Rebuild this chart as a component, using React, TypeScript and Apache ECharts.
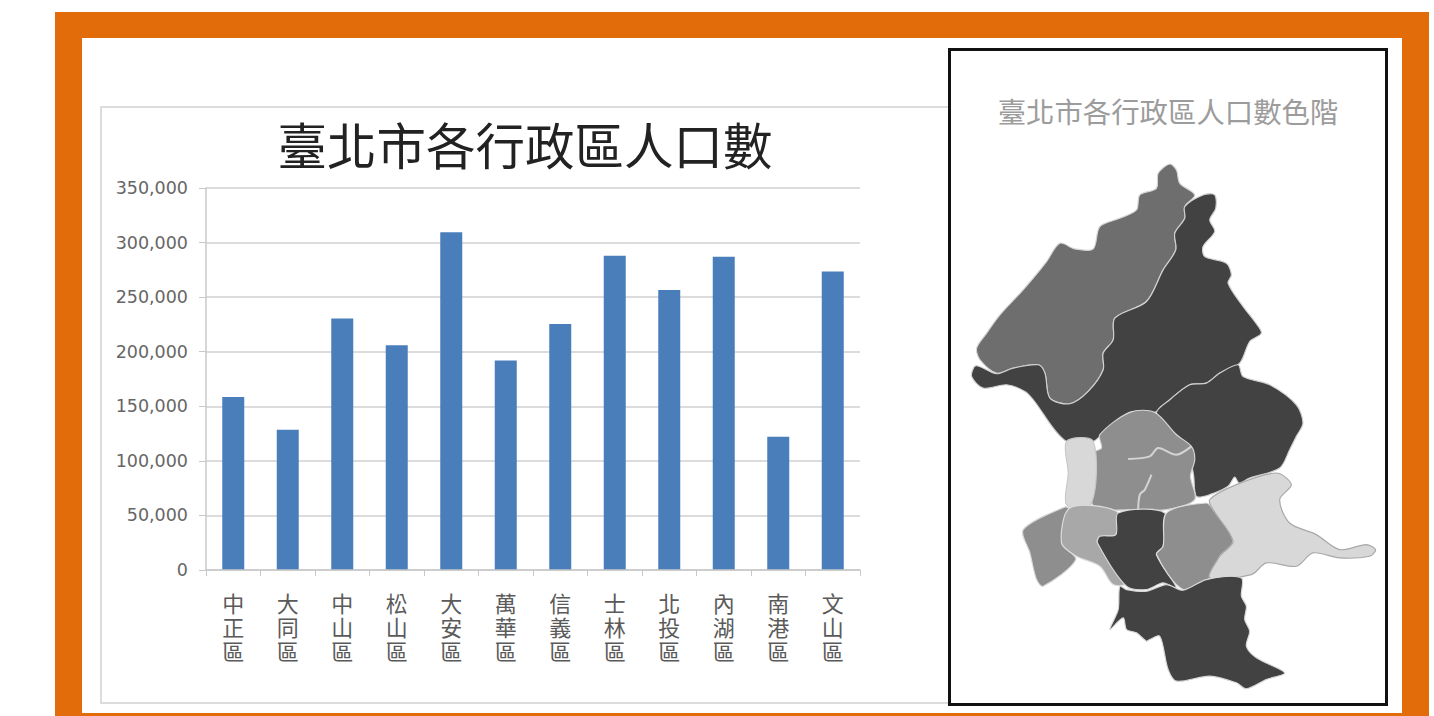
import React, { useEffect, useRef } from "react";
import * as echarts from "echarts";

const districts = ["中正區", "大同區", "中山區", "松山區", "大安區", "萬華區", "信義區", "士林區", "北投區", "內湖區", "南港區", "文山區"];
const population = [158500, 128500, 230500, 206000, 309500, 192000, 225500, 288000, 256500, 287000, 122000, 273500];
const chartTitle = "臺北市各行政區人口數";
const mapTitle = "臺北市各行政區人口數色階";

// Map outlines, in 3x pixels measured from (950,150)
const beitou = [[80,595],[110,550],[150,495],[215,425],[250,385],[290,335],[330,280],[375,297],[430,297],[450,230],[510,205],[560,180],[570,135],[620,115],[625,70],[660,42],[680,60],[690,100],[735,135],[705,170],[705,205],[675,250],[678,300],[640,360],[590,455],[495,505],[490,570],[460,610],[460,660],[415,725],[360,762],[300,745],[285,670],[265,645],[190,655],[140,670],[90,630]];
const shilin = [[65,680],[78,648],[140,672],[190,655],[265,645],[285,670],[300,745],[360,762],[415,725],[460,660],[460,610],[490,570],[495,505],[590,455],[640,360],[678,300],[675,250],[705,205],[705,170],[760,135],[795,135],[798,175],[780,210],[795,245],[760,290],[765,320],[830,340],[845,375],[835,400],[880,470],[915,515],[935,550],[900,575],[870,640],[810,670],[770,700],[720,705],[660,750],[615,788],[540,788],[450,860],[430,875],[345,872],[250,750],[225,725],[170,705],[100,715]];
const neihu = [[620,790],[660,750],[720,705],[770,700],[810,670],[865,645],[880,680],[960,705],[1040,765],[1060,820],[1040,860],[1020,900],[990,955],[900,985],[868,1000],[855,982],[835,1010],[780,1035],[740,1040],[732,980],[725,935],[725,895],[680,855]];
const centre = [[450,855],[540,788],[615,788],[680,855],[725,890],[735,930],[722,980],[735,1050],[650,1080],[565,1080],[430,1068],[430,910],[455,895]];
const datong = [[350,875],[430,875],[425,1060],[350,1065],[355,970]];
const wanhua = [[220,1140],[345,1072],[360,1080],[335,1180],[378,1230],[280,1310],[260,1290],[240,1210]];
const zhongzheng = [[360,1075],[500,1085],[498,1155],[450,1160],[443,1180],[530,1300],[490,1305],[450,1250],[380,1220],[335,1180]];
const daan = [[505,1090],[645,1090],[640,1190],[620,1215],[680,1315],[640,1300],[590,1320],[530,1310],[443,1180],[450,1160],[498,1155]];
const xinyi = [[650,1090],[770,1060],[790,1080],[850,1175],[810,1220],[780,1285],[700,1320],[620,1215],[640,1190]];
const nangang = [[780,1050],[860,1005],[980,970],[1025,1005],[990,1050],[1020,1120],[1100,1155],[1170,1200],[1250,1185],[1278,1200],[1260,1220],[1170,1225],[1090,1210],[1040,1250],[950,1240],[905,1275],[780,1285],[810,1220],[850,1175],[790,1080]];
const wenshan = [[510,1310],[530,1320],[590,1325],[650,1305],[700,1322],[770,1290],[875,1285],[875,1340],[890,1370],[885,1410],[900,1445],[890,1490],[920,1525],[1005,1570],[950,1590],[890,1618],[860,1600],[780,1580],[680,1595],[655,1560],[630,1460],[600,1470],[590,1475],[560,1450],[530,1440],[520,1405],[480,1440],[505,1380]];
const innerLineA = [[535,928],[600,920],[625,895],[680,915],[725,890]];
const innerLineB = [[605,975],[585,1020],[570,1035],[565,1080]];

const DARK = "#424242";
const MID = "#6e6e6e";
const GREY = "#8e8e8e";
const SOFT = "#a8a8a8";
const PALE = "#d8d8d8";

const regions: [number[][], string, string][] = [
  [beitou, MID, "#d4d4d4"],
  [shilin, DARK, "#d0d0d0"],
  [neihu, DARK, "#d0d0d0"],
  [centre, GREY, "#d4d4d4"],
  [datong, PALE, "#c8c8c8"],
  [wanhua, GREY, "#d8d8d8"],
  [zhongzheng, SOFT, "#dcdcdc"],
  [daan, DARK, "#d8d8d8"],
  [xinyi, GREY, "#dcdcdc"],
  [nangang, PALE, "#a8a8a8"],
  [wenshan, DARK, "#d8d8d8"],
];

export default function App() {
  const ref = useRef<HTMLDivElement>(null);
  useEffect(() => {
    const chart = echarts.init(ref.current!, undefined, { renderer: "svg" });
    const mapChildren: any[] = regions.map(([points, fill, stroke]) => ({
      type: "polygon",
      z: 10,
      shape: { points, smooth: 0.3 },
      style: { fill, stroke, lineWidth: 3.5, lineJoin: "round" },
    }));
    [innerLineA, innerLineB].forEach((points) =>
      mapChildren.push({
        type: "polyline",
        z: 11,
        shape: { points, smooth: 0.3 },
        style: { fill: "none", stroke: "#d4d4d4", lineWidth: 6 },
      })
    );
    chart.setOption({
      animation: false,
      backgroundColor: "#ffffff",
      title: [
        {
          text: chartTitle,
          left: 520,
          top: 110,
          textAlign: "center",
          textStyle: { fontFamily: "'Noto Sans CJK TC'", fontSize: 49.5, fontWeight: 400, color: "#222222", lineHeight: 56 },
        },
        {
          text: mapTitle,
          left: 1163,
          top: 89,
          textAlign: "center",
          textStyle: { fontFamily: "'Noto Sans CJK TC'", fontSize: 28.4, fontWeight: 400, color: "#9c9c9c", lineHeight: 32 },
        },
      ],
      grid: { left: 206, right: 574, top: 188, bottom: 146 },
      xAxis: {
        type: "category",
        data: districts,
        z: 3,
        axisLine: { lineStyle: { color: "#c8c8c8", width: 1.5 } },
        axisTick: { show: true, length: 6, alignWithLabel: false, lineStyle: { color: "#c8c8c8" } },
        axisLabel: {
          interval: 0,
          margin: 20,
          color: "#5a5a5a",
          fontFamily: "'Noto Sans CJK TC'",
          fontSize: 22,
          lineHeight: 24,
          formatter: (v: string) => v.split("").join("\n"),
        },
      },
      yAxis: {
        type: "value",
        min: 0,
        max: 350000,
        interval: 50000,
        z: 1,
        axisLine: { show: true, lineStyle: { color: "#c8c8c8", width: 1.5 } },
        axisTick: { show: true, length: 7, lineStyle: { color: "#c8c8c8" } },
        splitLine: { lineStyle: { color: "#dcdcdc", width: 2 } },
        axisLabel: {
          margin: 18,
          color: "#666666",
          fontFamily: "'DejaVu Sans'",
          fontSize: 17.5,
          formatter: (v: number) => v.toLocaleString("en-US"),
        },
      },
      series: [
        {
          type: "bar",
          data: population,
          barWidth: 22,
          itemStyle: { color: "#4a7ebb" },
          z: 2,
        },
      ],
      graphic: [
        { type: "rect", z: -10, shape: { x: 55, y: 12, width: 1374, height: 704 }, style: { fill: "#e36c0a" } },
        { type: "rect", z: -9, shape: { x: 82, y: 38, width: 1320, height: 675 }, style: { fill: "#ffffff" } },
        { type: "rect", z: -8, shape: { x: 101, y: 107, width: 860, height: 596 }, style: { fill: "#ffffff", stroke: "#dcdcdc", lineWidth: 2 } },
        { type: "rect", z: -7, shape: { x: 949.5, y: 49.5, width: 437, height: 655 }, style: { fill: "#ffffff", stroke: "#111111", lineWidth: 3 } },
        { type: "group", x: 950, y: 150, scaleX: 1 / 3, scaleY: 1 / 3, children: mapChildren },
      ],
    });
    return () => chart.dispose();
  }, []);
  return <div ref={ref} style={{ position: "fixed", left: 0, top: 0, width: 1434, height: 716 }} />;
}
